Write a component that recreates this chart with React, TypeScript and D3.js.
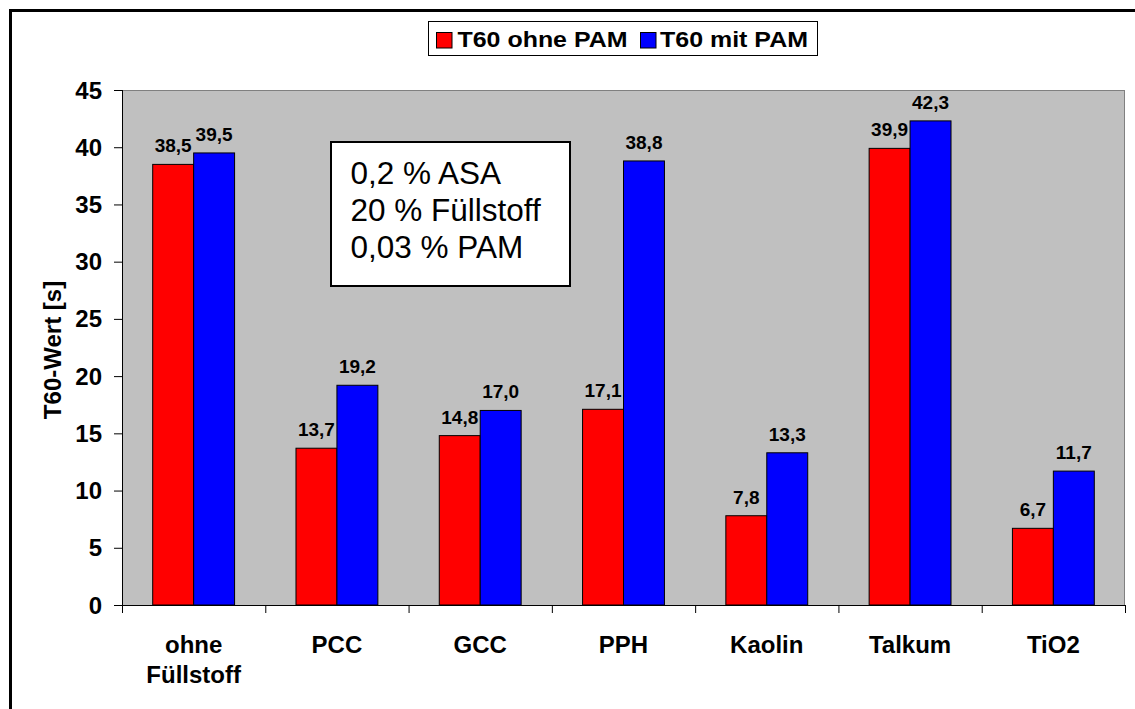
import React from "react";
import * as d3 from "d3";

const categories: string[][] = [["ohne", "Füllstoff"], ["PCC"], ["GCC"], ["PPH"], ["Kaolin"], ["Talkum"], ["TiO2"]];
const seriesNames = ["T60 ohne PAM", "T60 mit PAM"];
const ohnePAM = [38.5, 13.7, 14.8, 17.1, 7.8, 39.9, 6.7];
const mitPAM = [39.5, 19.2, 17.0, 38.8, 13.3, 42.3, 11.7];
const yTicks = [0, 5, 10, 15, 20, 25, 30, 35, 40, 45];
const noteLines = ["0,2 % ASA", "20 % Füllstoff", "0,03 % PAM"];
const colors = ["#FF0000", "#0000FF"];

const W = 1135;
const H = 709;
const plot = { left: 122, right: 1125, top: 90, bottom: 605 };
const font = "'Liberation Sans', Arial, Helvetica, sans-serif";

export default function App() {
  const keys = categories.map((_, i) => String(i));
  const x0 = d3.scaleBand<string>().domain(keys).range([plot.left, plot.right]).paddingInner(0).paddingOuter(0);
  const bw = x0.bandwidth() / 3.5;
  const y = d3.scaleLinear().domain([0, 45]).range([plot.bottom, plot.top]);
  const series = [ohnePAM, mitPAM];
  const fmt = (v: number) => v.toFixed(1).replace(".", ",");

  return (
    <svg width={W} height={H} style={{ position: "absolute", left: 0, top: 0, background: "#fff" }} fontFamily={font}>
      <rect x={10.5} y={10.5} width={1140} height={720} fill="#fff" stroke="#000" strokeWidth={3} />
      {/* plot area */}
      <rect x={plot.left} y={plot.top} width={plot.right - plot.left} height={plot.bottom - plot.top} fill="#C0C0C0" />
      <line x1={plot.left} x2={plot.right} y1={plot.top + 0.5} y2={plot.top + 0.5} stroke="#808080" strokeWidth={1} />
      <line x1={plot.right - 0.5} x2={plot.right - 0.5} y1={plot.top} y2={plot.bottom} stroke="#808080" strokeWidth={1} />
      {/* bars */}
      {keys.map((k, i) =>
        series.map((s, j) => {
          const bx = (x0(k) as number) + bw * 0.75 + j * bw;
          const by = y(s[i]);
          return (
            <g key={k + "-" + j}>
              <rect x={bx} y={by} width={bw} height={plot.bottom - by} fill={colors[j]} stroke="#000" strokeWidth={1} />
              <text x={bx + bw / 2} y={by - 12} textAnchor="middle" fontSize={19} fontWeight="bold" fill="#000">
                {fmt(s[i])}
              </text>
            </g>
          );
        })
      )}
      {/* y axis */}
      <line x1={plot.left + 0.5} x2={plot.left + 0.5} y1={plot.top} y2={plot.bottom} stroke="#000" />
      {yTicks.map((t) => (
        <g key={t}>
          <line x1={114} x2={plot.left} y1={y(t) + 0.5} y2={y(t) + 0.5} stroke="#000" />
          <text x={102} y={y(t) + 8.5} textAnchor="end" fontSize={24} fontWeight="bold">
            {t}
          </text>
        </g>
      ))}
      {/* x axis */}
      <line x1={plot.left} x2={plot.right} y1={plot.bottom + 0.5} y2={plot.bottom + 0.5} stroke="#000" />
      {keys.concat(["end"]).map((k, i) => {
        const xx = i < keys.length ? (x0(k) as number) : plot.right;
        return <line key={"xt" + i} x1={xx + 0.5} x2={xx + 0.5} y1={plot.bottom} y2={plot.bottom + 8} stroke="#000" />;
      })}
      {categories.map((lines, i) => (
        <text key={"c" + i} textAnchor="middle" fontSize={24} fontWeight="bold">
          {lines.map((l, li) => (
            <tspan key={li} x={(x0(String(i)) as number) + x0.bandwidth() / 2} y={653 + li * 29.5}>
              {l}
            </tspan>
          ))}
        </text>
      ))}
      {/* y title */}
      <text transform="translate(61,350) rotate(-90)" textAnchor="middle" fontSize={24} fontWeight="bold">
        T60-Wert [s]
      </text>
      {/* legend */}
      <rect x={428.5} y={21.5} width={389} height={34} fill="#fff" stroke="#000" strokeWidth={1} />
      {seriesNames.map((n, j) => {
        const sx = j === 0 ? 436.5 : 640.5;
        const tx = j === 0 ? 457.5 : 660;
        const tl = j === 0 ? 170 : 148;
        return (
          <g key={n}>
            <rect x={sx} y={32.5} width={15.5} height={15.5} fill={colors[j]} stroke="#000" strokeWidth={1} />
            <text x={tx} y={47.3} fontSize={21.5} fontWeight="bold" textLength={tl} lengthAdjust="spacingAndGlyphs">
              {n}
            </text>
          </g>
        );
      })}
      {/* note box */}
      <rect x={331} y={142} width={239} height={144} fill="#fff" stroke="#000" strokeWidth={2} />
      {noteLines.map((l, i) => (
        <text key={l} x={350.5} y={184.3 + i * 37} fontSize={31.5}>
          {l}
        </text>
      ))}
    </svg>
  );
}
